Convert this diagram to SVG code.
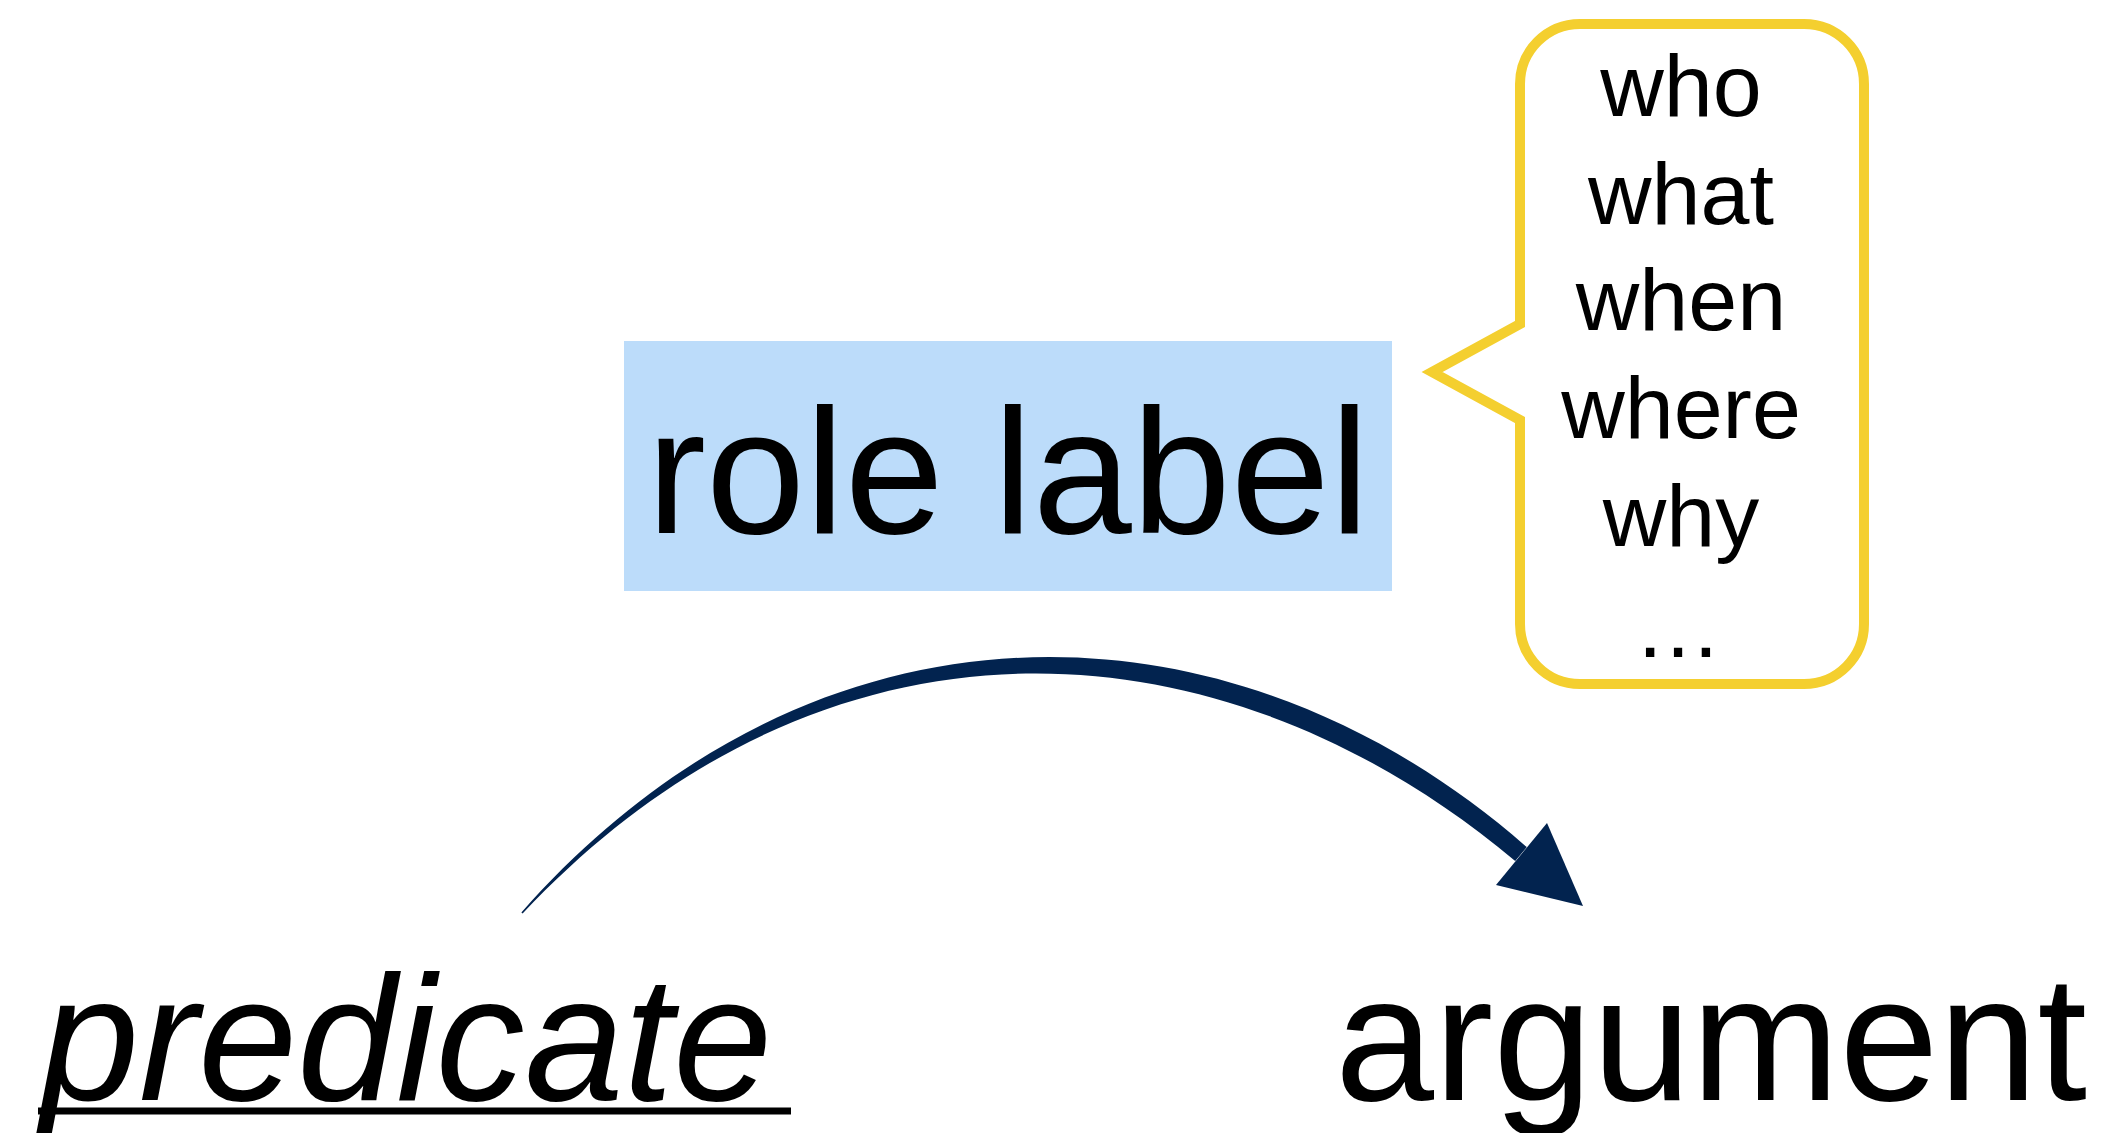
<svg xmlns="http://www.w3.org/2000/svg" width="2111" height="1133" viewBox="0 0 2111 1133">
  <style>
    .t { font-family: "Liberation Sans", Arial, Helvetica, sans-serif; fill: #000; }
    .big { font-size: 178px; }
    .q { font-size: 88px; text-anchor: middle; }
    .arc { fill: #02234f; }
  </style>
  <rect x="0" y="0" width="2111" height="1133" fill="#ffffff"/>

  <g id="role-label">
    <rect x="624" y="341" width="768" height="250" fill="#bcdcfa"/>
    <text class="t big" x="1008" y="533" text-anchor="middle">role label</text>
  </g>

  <g id="bubble">
    <path d="M 1580,24 H 1804 A 60 60 0 0 1 1864,84 V 624 A 60 60 0 0 1 1804,684 H 1580 A 60 60 0 0 1 1520,624 V 420 L 1432,372 L 1520,324 V 84 A 60 60 0 0 1 1580,24 Z" fill="#ffffff" stroke="#f4cf2f" stroke-width="10" stroke-linejoin="miter"/>
    <text class="t q" x="1681" y="116">who</text>
    <text class="t q" x="1681" y="224">what</text>
    <text class="t q" x="1681" y="330">when</text>
    <text class="t q" x="1681" y="438">where</text>
    <text class="t q" x="1681" y="546">why</text>
    <text class="t q" x="1678" y="657">…</text>
  </g>

  <g id="predicate">
    <text class="t big" x="40" y="1100" font-style="italic">predicate</text>
    <line x1="38" y1="1111" x2="791" y2="1111" stroke="#000" stroke-width="7"/>
  </g>

  <g id="argument">
    <text class="t big" x="1335" y="1100">argument</text>
  </g>

  <g id="connectors">
    <path class="arc" d="M 521.4,912.4 C 816,579 1232,588 1526.8,847.1 L 1515.2,860.9 C 1218,612 824,593 522.6,913.6 Z"/>
    <polygon class="arc" points="1583,906 1547,823 1496,885"/>
  </g>
</svg>
